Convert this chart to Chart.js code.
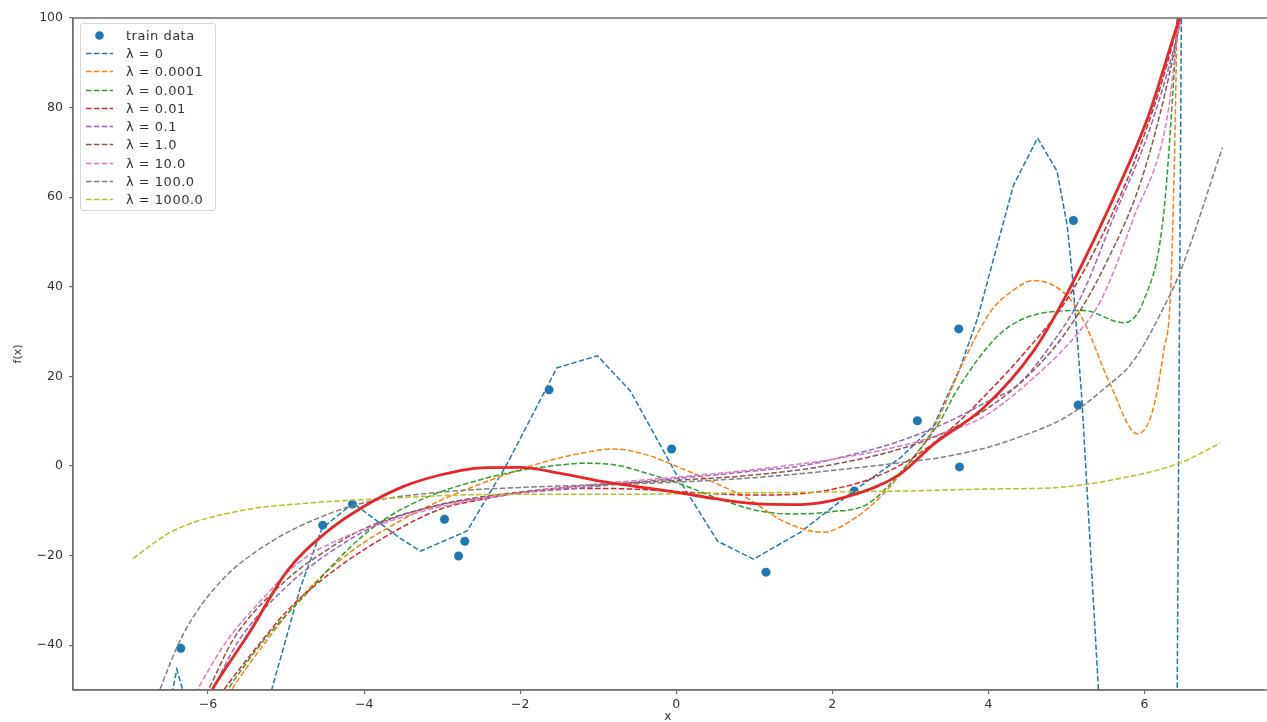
<!DOCTYPE html>
<html><head><meta charset="utf-8">
<script src="https://cdn.jsdelivr.net/npm/chart.js@4.4.0/dist/chart.umd.min.js"></script>
<style>
html,body{margin:0;padding:0;background:#fff;}
#wrap{position:relative;width:1267px;height:722px;overflow:hidden;}
#legend{position:absolute;left:80px;top:23px;width:134px;padding:2px 0 1px 0;background:rgba(255,255,255,0.85);border:1px solid #d6d6d6;border-radius:3px;font-family:"DejaVu Sans",sans-serif;font-size:13px;letter-spacing:0.5px;color:#333;}
.item{height:18.3px;display:flex;align-items:center;white-space:nowrap;}
.sw{width:27px;height:9px;margin-left:5px;margin-right:13px;display:block;}
</style></head><body>
<div id="wrap"><canvas id="c" width="1267" height="722"></canvas><div id="legend"></div></div>
<script>
// ---- tick labels ----
const xTickValues = [-6, -4, -2, 0, 2, 4, 6];
const xTickLabels = ['\u22126', '\u22124', '\u22122', '0', '2', '4', '6'];
const yTickValues = [-40, -20, 0, 20, 40, 60, 80, 100];
const yTickLabels = ['\u221240', '\u221220', '0', '20', '40', '60', '80', '100'];

// ---- training data ----
const trainX = [-6.35, -4.53, -4.15, -2.97, -2.79, -2.71, -1.63, -0.06, 1.15, 2.28, 3.09, 3.62, 3.63, 5.09, 5.15];
const trainY = [-40.7, -13.2, -8.5, -11.9, -20.1, -16.8, 17.0, 3.8, -23.7, -5.6, 10.1, 30.6, -0.2, 54.8, 13.6];

// ---- true function (red solid) ----
const trueX = [-6.5, -5.95, -5.46, -4.99, -4.5, -4.0, -3.5, -3.0, -2.5, -2.0, -1.5, -1.0, -0.5, 0.05, 0.5, 1.0, 1.6, 2.2, 2.87, 3.3, 3.94, 4.58, 4.96, 5.6, 6.04, 6.42, 6.8];
const trueY = [-68, -50, -36.9, -23.5, -15.0, -9.0, -4.6, -1.9, -0.4, -0.3, -1.6, -3.3, -4.6, -6.0, -7.3, -8.4, -8.6, -6.8, -1.8, 4.9, 13.0, 25.7, 36.9, 59.7, 77.6, 98.4, 118];

// ---- ridge fits ----
const lam0X = [-6.75, -6.4, -5.75, -4.82, -4.54, -4.14, -3.54, -3.28, -2.68, -2.17, -1.53, -1.01, -0.59, 0.05, 0.53, 0.99, 1.59, 2.27, 2.87, 3.3, 3.64, 3.86, 4.32, 4.63, 4.88, 5.01, 5.08, 5.2, 5.45, 5.7, 6.2, 6.42, 6.48];
const lam0Y = [-75, -45.4, -85, -27.3, -13.9, -8.3, -16.1, -19.0, -14.5, 0.4, 21.9, 24.6, 16.8, -3.4, -16.8, -20.8, -14.8, -5.6, 1.8, 9.0, 22.0, 32.9, 62.6, 73.2, 65.8, 53.7, 41.8, 14.5, -62, -400, -400, -50, 120];

const lam1em4X = [-6.1, -5.7, -5.24, -4.74, -4.2, -3.46, -3.0, -2.51, -2.0, -1.65, -1.2, -0.81, -0.4, 0.05, 0.5, 0.91, 1.37, 1.88, 2.3, 2.65, 3.0, 3.3, 3.7, 4.03, 4.3, 4.58, 5.01, 5.22, 5.56, 5.91, 6.1, 6.25, 6.33, 6.38, 6.42, 6.5];
const lam1em4Y = [-62, -50, -38.8, -28, -19.5, -11.5, -7.5, -4.0, -0.8, 1.1, 2.9, 3.8, 2.6, -0.4, -3.8, -7.2, -12.3, -14.8, -11.5, -6.3, 1.0, 8.5, 24, 34.5, 39, 41.4, 38, 32.4, 18.3, 7.2, 12, 26, 37, 65, 100, 150];

const lam1em3X = [-6.1, -5.75, -5.28, -4.74, -4.2, -3.79, -3.2, -2.5, -2.0, -1.5, -1.2, -0.8, -0.4, 0.05, 0.5, 1.0, 1.46, 2.0, 2.45, 2.87, 3.38, 3.6, 4.15, 4.71, 5.22, 5.73, 5.99, 6.24, 6.37, 6.45];
const lam1em3Y = [-60, -50, -38.8, -28.5, -18.5, -12.5, -7.0, -3.0, -1.0, 0.2, 0.6, 0.3, -1.5, -4.0, -7.0, -9.8, -10.7, -10.2, -8.5, -1.5, 10, 17, 29.5, 34.2, 34.7, 32, 36.9, 55.3, 85, 110];

const lam1em2X = [-6.2, -5.8, -5.3, -4.99, -4.4, -3.54, -3.0, -2.5, -2.0, -1.5, -1.0, -0.5, 0.0, 0.5, 1.0, 1.5, 2.0, 2.5, 3.0, 3.5, 4.0, 4.5, 5.0, 5.5, 6.0, 6.4, 6.55];
const lam1em2Y = [-60, -50, -38.8, -32.4, -23.5, -13.9, -9.5, -7.5, -6.0, -5.2, -5.0, -5.2, -5.7, -6.2, -6.5, -6.3, -5.2, -2.8, 1.5, 8, 16.5, 26, 37, 53, 74, 97, 110];

const lam1em1X = [-6.3, -5.95, -5.6, -5.0, -4.5, -3.79, -3.0, -2.51, -2.0, -1.23, -0.5, 0.05, 0.5, 1.0, 1.59, 2.2, 2.87, 3.5, 4.0, 4.37, 4.8, 5.18, 5.6, 6.04, 6.37, 6.5];
const lam1em1Y = [-60, -50, -38.8, -27, -20, -12.8, -8.6, -7.2, -6.0, -4.9, -3.6, -2.7, -2.0, -1.1, 0.0, 2.3, 5.6, 10, 14.5, 18, 27, 37.5, 55.3, 73.8, 92.6, 102];

const lam1X = [-6.35, -6.0, -5.68, -5.0, -4.5, -4.0, -3.0, -2.0, -1.0, 0.0, 1.0, 2.0, 3.0, 3.5, 4.0, 4.5, 5.0, 5.5, 6.0, 6.42, 6.55];
const lam1Y = [-60, -50, -38.8, -25.5, -19, -14, -8.5, -5.8, -4.2, -3.2, -2.0, 0.3, 4.5, 8, 13, 20, 30, 45, 66, 96, 110];

const lam10X = [-6.35, -6.14, -5.75, -5.33, -4.82, -4.2, -3.54, -3.0, -2.0, -1.0, 0.0, 1.0, 2.0, 3.0, 3.5, 3.94, 4.58, 5.14, 5.44, 5.86, 6.29, 6.42, 6.6];
const lam10Y = [-57, -50, -38.8, -30.2, -21.3, -15.5, -11.6, -9.0, -6.0, -4.0, -2.5, -0.8, 1.5, 5.0, 7.8, 11.0, 19.7, 29.5, 36.9, 55.3, 77.6, 95.5, 115];

const lam100X = [-7.0, -6.62, -6.32, -5.85, -5.2, -4.5, -4.0, -3.0, -2.0, -1.0, 0.0, 1.0, 2.0, 3.0, 3.35, 4.0, 4.37, 5.0, 5.5, 5.86, 6.29, 6.46, 7.0];
const lam100Y = [-68, -50, -37.6, -26, -17, -11, -8.2, -5.8, -4.8, -4.2, -3.6, -2.6, -1.0, 1.0, 1.8, 4.2, 6.3, 11, 17.5, 23.5, 36.9, 43.4, 71.1];

const lam1000X = [-6.96, -6.45, -5.59, -4.74, -3.88, -2.6, -1.5, -0.5, 0.31, 1.5, 2.87, 4.15, 4.79, 5.65, 6.46, 6.97];
const lam1000Y = [-20.6, -14.5, -10.0, -8.3, -7.4, -6.4, -6.3, -6.3, -6.1, -5.9, -5.6, -5.1, -4.9, -2.9, 0.7, 5.1];

const seriesLabels = ['\u03bb = 0', '\u03bb = 0.0001', '\u03bb = 0.001', '\u03bb = 0.01', '\u03bb = 0.1', '\u03bb = 1.0', '\u03bb = 10.0', '\u03bb = 100.0', '\u03bb = 1000.0'];
const seriesX = [lam0X, lam1em4X, lam1em3X, lam1em2X, lam1em1X, lam1X, lam10X, lam100X, lam1000X];
const seriesY = [lam0Y, lam1em4Y, lam1em3Y, lam1em2Y, lam1em1Y, lam1Y, lam10Y, lam100Y, lam1000Y];
const seriesColors = ['#1f77b4', '#ff7f0e', '#2ca02c', '#d62728', '#9467bd', '#8c564b', '#e377c2', '#7f7f7f', '#bcbd22'];

const pts = (xs, ys) => xs.map((x, i) => ({x: x, y: ys[i]}));
const DASH = [5.5, 2.4];

const datasets = [];
datasets.push({
  label: 'train data', type: 'scatter', data: pts(trainX, trainY),
  showLine: false, pointRadius: 4.5, pointHoverRadius: 4.5,
  backgroundColor: '#1f77b4', borderColor: '#1f77b4', borderWidth: 0, order: 20
});
seriesLabels.forEach((lab, i) => {
  datasets.push({
    label: lab, data: pts(seriesX[i], seriesY[i]),
    borderColor: seriesColors[i], backgroundColor: seriesColors[i],
    borderWidth: 1.5, borderDash: DASH, pointRadius: 0, fill: false,
    tension: i === 0 ? 0 : 0.4,
    cubicInterpolationMode: i === 0 ? 'default' : 'monotone',
    order: 10 - i
  });
});
datasets.push({
  label: 'true', data: pts(trueX, trueY),
  borderColor: '#e8262a', backgroundColor: '#e8262a', borderWidth: 2.8,
  pointRadius: 0, fill: false, cubicInterpolationMode: 'monotone', order: 0
});

const spinePlugin = {
  id: 'spines',
  afterDatasetsDraw(chart) {
    const {ctx, chartArea: a} = chart;
    ctx.save();
    ctx.strokeStyle = '#6e6e6e'; ctx.lineWidth = 1.3;
    ctx.beginPath();
    ctx.moveTo(a.left, a.top); ctx.lineTo(chart.width, a.top);
    ctx.moveTo(a.left, a.top); ctx.lineTo(a.left, a.bottom);
    ctx.lineTo(chart.width, a.bottom);
    ctx.stroke();
    ctx.restore();
  }
};

const tickFont = {family: 'DejaVu Sans', size: 12.5};
new Chart(document.getElementById('c'), {
  type: 'line',
  data: {datasets: datasets},
  plugins: [spinePlugin],
  options: {
    responsive: false, animation: false, devicePixelRatio: 1,
    layout: {padding: {left: 0, right: 0, top: 18, bottom: 0}},
    plugins: {legend: {display: false}, tooltip: {enabled: false}},
    scales: {
      x: {
        type: 'linear', min: -7.731, max: 7.513,
        afterBuildTicks: s => { s.ticks = xTickValues.map(v => ({value: v})); },
        afterFit: s => { s.height = 32; s.paddingLeft = 0; s.paddingRight = 0; },
        ticks: {font: tickFont, color: '#333', padding: 3, maxRotation: 0,
                callback: v => xTickLabels[xTickValues.indexOf(v)]},
        grid: {drawOnChartArea: false, drawTicks: true, tickLength: 4, color: '#6e6e6e', lineWidth: 1.2},
        border: {display: true, color: '#6e6e6e', width: 1.3},
        title: {display: true, text: 'x', font: {family: 'DejaVu Sans', size: 12, lineHeight: 0.8}, color: '#333', padding: {top: 0, bottom: 0}}
      },
      y: {
        type: 'linear', min: -50, max: 100,
        afterBuildTicks: s => { s.ticks = yTickValues.map(v => ({value: v})); },
        afterFit: s => { s.width = 73; s.paddingTop = 0; s.paddingBottom = 0; },
        ticks: {font: tickFont, color: '#333', padding: 6,
                callback: v => yTickLabels[yTickValues.indexOf(v)]},
        grid: {drawOnChartArea: false, drawTicks: true, tickLength: 4, color: '#6e6e6e', lineWidth: 1.2},
        border: {display: true, color: '#6e6e6e', width: 1.3},
        title: {display: true, text: 'f(x)', font: {family: 'DejaVu Sans', size: 11}, color: '#333', padding: {top: 12, bottom: 0}}
      }
    }
  }
});

// ---- legend (HTML) ----
const leg = document.getElementById('legend');
const addItem = (label, color, isPoint) => {
  const d = document.createElement('div'); d.className = 'item';
  const svgNS = 'http://www.w3.org/2000/svg';
  const svg = document.createElementNS(svgNS, 'svg');
  svg.setAttribute('class', 'sw'); svg.setAttribute('width', '27'); svg.setAttribute('height', '9');
  if (isPoint) {
    const c = document.createElementNS(svgNS, 'circle');
    c.setAttribute('cx', '13.5'); c.setAttribute('cy', '4.5'); c.setAttribute('r', '4.3');
    c.setAttribute('fill', color); svg.appendChild(c);
  } else {
    const l = document.createElementNS(svgNS, 'line');
    l.setAttribute('x1', '0'); l.setAttribute('y1', '4.5'); l.setAttribute('x2', '27'); l.setAttribute('y2', '4.5');
    l.setAttribute('stroke', color); l.setAttribute('stroke-width', '1.5');
    l.setAttribute('stroke-dasharray', DASH.join(' ')); svg.appendChild(l);
  }
  const t = document.createElement('span'); t.textContent = label;
  d.appendChild(svg); d.appendChild(t); leg.appendChild(d);
};
addItem('train data', '#1f77b4', true);
seriesLabels.forEach((lab, i) => addItem(lab, seriesColors[i], false));
</script>
</body></html>
